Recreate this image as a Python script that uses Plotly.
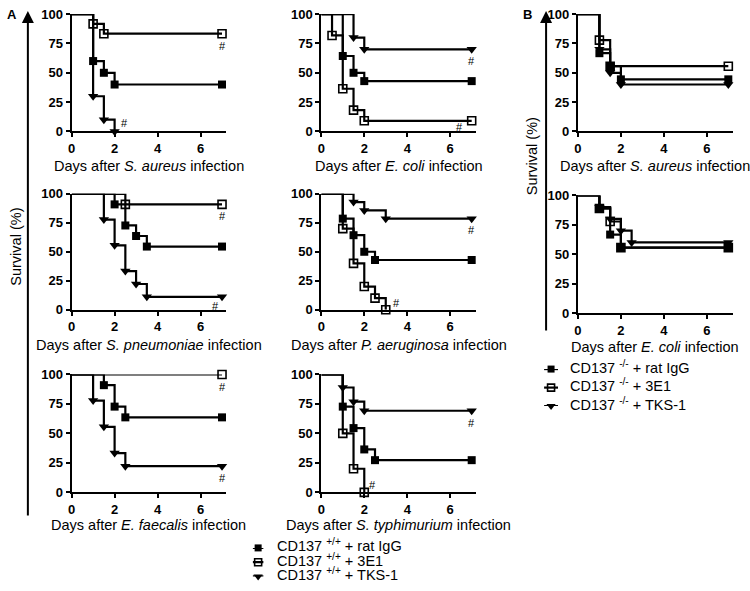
import plotly.graph_objects as go

W, H = 750, 591

# ---------------- DATA (days, survival %) ----------------
# Panel A, CD137+/+ : S. aureus
sa_wt_igg_d = [0, 1, 1.5, 2, 7]
sa_wt_igg_s = [100, 60, 50, 40, 40]
sa_wt_3e1_d = [0, 1, 1.5, 7]
sa_wt_3e1_s = [100, 91.7, 83.3, 83.3]
sa_wt_tks_d = [0, 1, 1.5, 2]
sa_wt_tks_s = [100, 30, 10, 0]

# E. coli
ec_wt_igg_d = [0, 1, 1.5, 2, 7]
ec_wt_igg_s = [100, 64.3, 50, 42.9, 42.9]
ec_wt_3e1_d = [0, 0.5, 1, 1.5, 2, 7]
ec_wt_3e1_s = [100, 81.8, 36.4, 18.2, 9.1, 9.1]
ec_wt_tks_d = [0, 1.5, 2, 7]
ec_wt_tks_s = [100, 80, 70, 70]

# S. pneumoniae
sp_wt_igg_d = [0, 2, 2.5, 3, 3.5, 7]
sp_wt_igg_s = [100, 90.9, 72.7, 63.6, 54.5, 54.5]
sp_wt_3e1_d = [0, 2.5, 7]
sp_wt_3e1_s = [100, 90.9, 90.9]
sp_wt_tks_d = [0, 1.5, 2, 2.5, 3, 3.5, 7]
sp_wt_tks_s = [100, 77.8, 55.6, 33.3, 22.2, 11.1, 11.1]

# P. aeruginosa
pa_wt_igg_d = [0, 1, 1.5, 2, 2.5, 7]
pa_wt_igg_s = [100, 78.6, 64.3, 50, 42.9, 42.9]
pa_wt_3e1_d = [0, 1, 1.5, 2, 2.5, 3]
pa_wt_3e1_s = [100, 70, 40, 20, 10, 0]
pa_wt_tks_d = [0, 1.5, 2, 3, 7]
pa_wt_tks_s = [100, 92.9, 85.7, 78.6, 78.6]

# E. faecalis
ef_wt_igg_d = [0, 1.5, 2, 2.5, 7]
ef_wt_igg_s = [100, 90.9, 72.7, 63.6, 63.6]
ef_wt_3e1_d = [0, 7]
ef_wt_3e1_s = [100, 100]
ef_wt_tks_d = [0, 1, 1.5, 2, 2.5, 7]
ef_wt_tks_s = [100, 77.8, 55.6, 33.3, 22.2, 22.2]

# S. typhimurium
st_wt_igg_d = [0, 1, 1.5, 2, 2.5, 7]
st_wt_igg_s = [100, 72.7, 54.5, 36.4, 27.3, 27.3]
st_wt_3e1_d = [0, 1, 1.5, 2]
st_wt_3e1_s = [100, 50, 20, 0]
st_wt_tks_d = [0, 1, 1.5, 2, 7]
st_wt_tks_s = [100, 88.9, 76.9, 69.2, 69.2]

# Panel B, CD137-/- : S. aureus
sa_ko_igg_d = [0, 1, 1.5, 2, 7]
sa_ko_igg_s = [100, 66.7, 55.6, 44.4, 44.4]
sa_ko_3e1_d = [0, 1, 1.5, 7]
sa_ko_3e1_s = [100, 77.8, 55.6, 55.6]
sa_ko_tks_d = [0, 1, 1.5, 2, 7]
sa_ko_tks_s = [100, 70, 50, 40, 40]

# E. coli
ec_ko_igg_d = [0, 1, 1.5, 2, 7]
ec_ko_igg_s = [100, 88.9, 66.7, 55.6, 55.6]
ec_ko_3e1_d = [0, 1, 1.5, 2, 7]
ec_ko_3e1_s = [100, 88.9, 77.8, 55.6, 55.6]
ec_ko_tks_d = [0, 1, 1.5, 2, 2.5, 7]
ec_ko_tks_s = [100, 90, 80, 70, 60, 60]

x_ticks = [0, 2, 4, 6]
y_ticks = [0, 25, 50, 75, 100]
legend_a_labels = ["CD137 <sup>+/+</sup> + rat IgG", "CD137 <sup>+/+</sup> + 3E1",
                   "CD137 <sup>+/+</sup> + TKS-1"]
legend_b_labels = ["CD137 <sup>-/-</sup> + rat IgG", "CD137 <sup>-/-</sup> + 3E1",
                   "CD137 <sup>-/-</sup> + TKS-1"]

# ---------------- STYLE ----------------
FONT = "Liberation Sans, Arial, sans-serif"
STY = {
    "igg": dict(symbol="square", size=8),
    "3e1": dict(symbol="square-open", size=8, line=dict(width=1.6, color="black")),
    "tks": dict(symbol="triangle-down", size=9),
}
LW = 2.2

fig = go.Figure()
annotations = []
layout = {}


def ax_names(i):
    s = "" if i == 1 else str(i)
    return "x" + s, "y" + s, "xaxis" + s, "yaxis" + s


def bold(vals):
    return ["<b>%d</b>" % v for v in vals]


def add_panel(i, x0, ppd, ytop, ybot, series, title, title_y, hashes):
    xr, yr, xk, yk = ax_names(i)
    x1 = x0 + 7.2 * ppd
    common = dict(showline=True, linewidth=2, linecolor="black",
                  ticks="outside", ticklen=4, tickwidth=2, tickcolor="black",
                  showgrid=False, zeroline=False,
                  tickfont=dict(family=FONT, size=13, color="black"))
    layout[xk] = dict(domain=[x0 / W, x1 / W], range=[0, 7.2], anchor=yr,
                      tickvals=x_ticks, ticktext=bold(x_ticks), **common)
    layout[yk] = dict(domain=[1 - ybot / H, 1 - ytop / H], range=[0, 100], anchor=xr,
                      tickvals=y_ticks, ticktext=bold(y_ticks), **common)
    for key, d, s in series:
        fig.add_trace(go.Scatter(x=d, y=s, mode="lines", line=dict(color="black", width=LW, shape="hv"),
                                 xaxis=xr, yaxis=yr, cliponaxis=False, hoverinfo="skip"))
        fig.add_trace(go.Scatter(x=d[1:], y=s[1:], mode="markers",
                                 marker=dict(color="black", **STY[key]),
                                 xaxis=xr, yaxis=yr, cliponaxis=False))
    annotations.append(dict(text=title, x=(x0 + x1) / 2 / W, y=1 - title_y / H, xref="paper", yref="paper",
                            showarrow=False, xanchor="center", yanchor="middle",
                            font=dict(family=FONT, size=14.5, color="black")))
    for hx, hy in hashes:
        annotations.append(dict(text="#", x=hx, y=hy, xref=xr, yref=yr, showarrow=False,
                                xanchor="center", yanchor="middle",
                                font=dict(family=FONT, size=11, color="black")))


# column geometry
XA, XB, XC = 68, 319, 577
PPD = 21.6

add_panel(1, XA, PPD, 7.3, 127.7,
          [("igg", sa_wt_igg_d, sa_wt_igg_s), ("3e1", sa_wt_3e1_d, sa_wt_3e1_s), ("tks", sa_wt_tks_d, sa_wt_tks_s)],
          "Days after <i>S. aureus</i> infection", 163, [(7, 73), (2.45, 7)])
add_panel(2, XB, PPD, 7.3, 127.7,
          [("igg", ec_wt_igg_d, ec_wt_igg_s), ("3e1", ec_wt_3e1_d, ec_wt_3e1_s), ("tks", ec_wt_tks_d, ec_wt_tks_s)],
          "Days after <i>E. coli</i> infection", 163, [(7, 60), (6.45, 4)])
add_panel(3, XA, PPD, 191.7, 310.6,
          [("igg", sp_wt_igg_d, sp_wt_igg_s), ("3e1", sp_wt_3e1_d, sp_wt_3e1_s), ("tks", sp_wt_tks_d, sp_wt_tks_s)],
          "Days after <i>S. pneumoniae</i> infection", 347, [(7, 81), (6.7, 3)])
add_panel(4, XB, PPD, 191.7, 310.6,
          [("igg", pa_wt_igg_d, pa_wt_igg_s), ("3e1", pa_wt_3e1_d, pa_wt_3e1_s), ("tks", pa_wt_tks_d, pa_wt_tks_s)],
          "Days after <i>P. aeruginosa</i> infection", 347, [(7, 69), (3.5, 6)])
add_panel(5, XA, PPD, 377, 498,
          [("igg", ef_wt_igg_d, ef_wt_igg_s), ("3e1", ef_wt_3e1_d, ef_wt_3e1_s), ("tks", ef_wt_tks_d, ef_wt_tks_s)],
          "Days after <i>E. faecalis</i> infection", 531, [(7, 89), (7, 12)])
add_panel(6, XB, PPD, 377, 498,
          [("igg", st_wt_igg_d, st_wt_igg_s), ("3e1", st_wt_3e1_d, st_wt_3e1_s), ("tks", st_wt_tks_d, st_wt_tks_s)],
          "Days after <i>S. typhimurium</i> infection", 531, [(7, 59), (2.4, 6)])
add_panel(7, XC, PPD, 7.3, 127.7,
          [("igg", sa_ko_igg_d, sa_ko_igg_s), ("3e1", sa_ko_3e1_d, sa_ko_3e1_s), ("tks", sa_ko_tks_d, sa_ko_tks_s)],
          "Days after <i>S. aureus</i> infection", 163, [])
add_panel(8, XC, PPD, 193.3, 314,
          [("igg", ec_ko_igg_d, ec_ko_igg_s), ("3e1", ec_ko_3e1_d, ec_ko_3e1_s), ("tks", ec_ko_tks_d, ec_ko_tks_s)],
          "Days after <i>E. coli</i> infection", 349, [])


# ---------------- manual legends ----------------
def add_legend(i, sx0, sx1, row_y0, row_y1, text_x, labels):
    xr, yr, xk, yk = ax_names(i)
    layout[xk] = dict(domain=[sx0 / W, sx1 / W], range=[0, 1], visible=False, anchor=yr)
    layout[yk] = dict(domain=[1 - row_y1 / H, 1 - row_y0 / H], range=[2, 0], visible=False, anchor=xr)
    keys = ["igg", "3e1", "tks"]
    for r, key in enumerate(keys):
        fig.add_trace(go.Scatter(x=[0, 1], y=[r, r], mode="lines", line=dict(color="black", width=LW),
                                 xaxis=xr, yaxis=yr, cliponaxis=False, hoverinfo="skip"))
        st = dict(STY[key])
        st["size"] = st["size"] - 1
        fig.add_trace(go.Scatter(x=[0.5], y=[r], mode="markers", marker=dict(color="black", **st),
                                 xaxis=xr, yaxis=yr, cliponaxis=False))
        ry = row_y0 + r * (row_y1 - row_y0) / 2 - 2.5
        annotations.append(dict(text=labels[r], x=text_x / W, y=1 - ry / H, xref="paper", yref="paper",
                                showarrow=False, xanchor="left", yanchor="middle",
                                font=dict(family=FONT, size=14.5, color="black")))


add_legend(9, 250, 261, 555, 584.3, 272, legend_a_labels)
add_legend(10, 543, 557, 371.5, 409.5, 567, legend_b_labels)

# ---------------- big axis arrows, labels ----------------
for ax_x, tail in [(24, 510), (545, 325)]:
    annotations.append(dict(x=ax_x / W, y=1 - 4 / H, xref="paper", yref="paper", text="",
                            showarrow=True, ax=0, ay=tail - 4, axref="pixel", ayref="pixel",
                            arrowhead=2, arrowsize=1.2, arrowwidth=2, arrowcolor="black"))
annotations.append(dict(text="Survival (%)", x=12 / W, y=1 - 246 / H, xref="paper", yref="paper",
                        xanchor="center", yanchor="middle",
                        showarrow=False, textangle=-90, font=dict(family=FONT, size=14.5, color="black")))
annotations.append(dict(text="Survival (%)", x=531 / W, y=1 - 153 / H, xref="paper", yref="paper",
                        xanchor="center", yanchor="middle",
                        showarrow=False, textangle=-90, font=dict(family=FONT, size=14.5, color="black")))
annotations.append(dict(text="<b>A</b>", x=8 / W, y=1 - 8 / H, xref="paper", yref="paper",
                        xanchor="center", yanchor="middle",
                        showarrow=False, font=dict(family=FONT, size=13, color="black")))
annotations.append(dict(text="<b>B</b>", x=526 / W, y=1 - 8 / H, xref="paper", yref="paper",
                        xanchor="center", yanchor="middle",
                        showarrow=False, font=dict(family=FONT, size=13, color="black")))

fig.update_layout(width=W, height=H, margin=dict(l=0, r=0, t=0, b=0), showlegend=False,
                  plot_bgcolor="white", paper_bgcolor="white", annotations=annotations, **layout)

fig.write_html("out.html", config={"displayModeBar": False},
               post_script="document.body.style.margin='0';document.body.style.overflow='hidden';")
